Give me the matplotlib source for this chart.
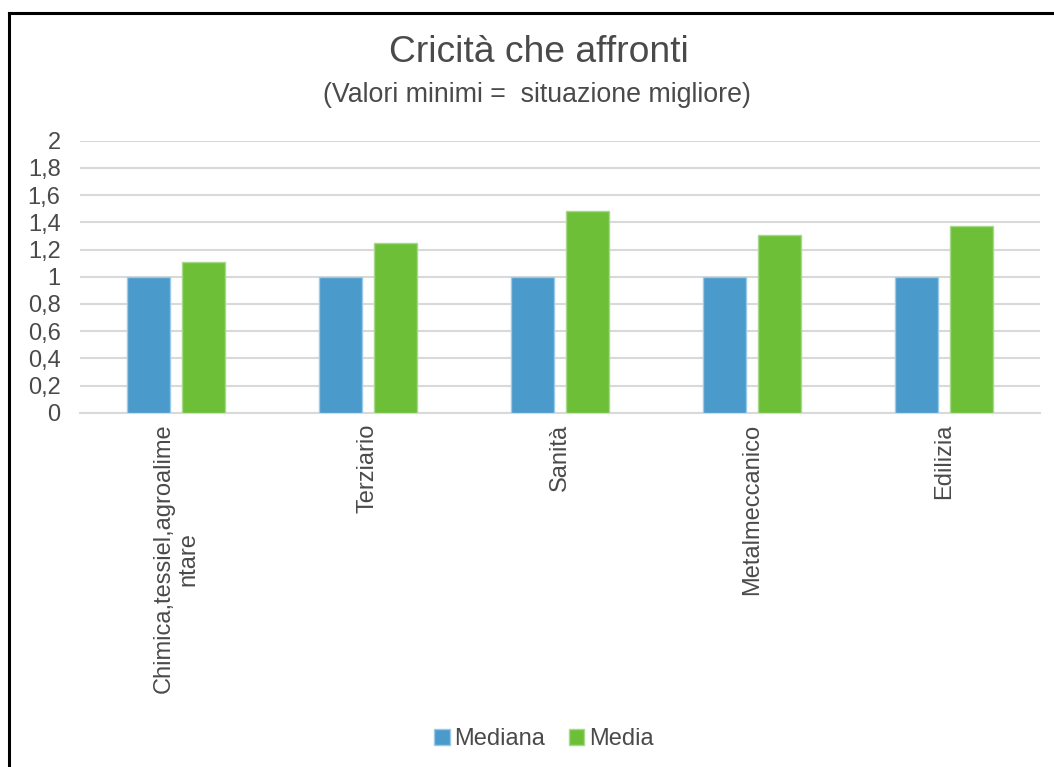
import matplotlib
matplotlib.use("Agg")
import matplotlib.pyplot as plt
from matplotlib.lines import Line2D
import numpy as np

plt.rcParams['font.family'] = ['Liberation Sans', 'DejaVu Sans']

# Data
categories = ["Chimica,tessiel,agroalime\nntare", "Terziario", "Sanità",
              "Metalmeccanico", "Edilizia"]
mediana = [1.0, 1.0, 1.0, 1.0, 1.0]
media = [1.11, 1.25, 1.48, 1.31, 1.37]
series_names = ["Mediana", "Media"]
y_ticks = [0, 0.2, 0.4, 0.6, 0.8, 1.0, 1.2, 1.4, 1.6, 1.8, 2.0]

W, H = 1054, 767
fig = plt.figure(figsize=(W / 100, H / 100), dpi=100)
fig.patch.set_facecolor('white')

ax = fig.add_axes([80 / W, 1 - 412.7 / H, 960 / W, 272 / H])

text_col = '#4a4a4a'
blue, blue_edge = '#4a9acb', '#9ccae6'
green, green_edge = '#6dbf38', '#a8d98a'

x = np.arange(len(categories))
width = 0.224
off = 0.143
ax.bar(x - off, mediana, width, color=blue, edgecolor=blue_edge, linewidth=1,
       label=series_names[0], zorder=3)
ax.bar(x + off, media, width, color=green, edgecolor=green_edge, linewidth=1,
       label=series_names[1], zorder=3)

ax.set_xlim(-0.5, len(categories) - 0.5)
ax.set_ylim(0, 2)
ax.set_yticks(y_ticks)
ax.set_yticklabels([f"{v:g}".replace('.', ',') for v in y_ticks])
ax.yaxis.grid(True, color='#d9d9d9', linewidth=1.5, zorder=0)
ax.set_axisbelow(True)
for s in ['left', 'right', 'top']:
    ax.spines[s].set_visible(False)
ax.spines['bottom'].set_color('#d9d9d9')
ax.spines['bottom'].set_linewidth(1.5)

ax.tick_params(axis='y', length=0, pad=14, labelsize=17, labelcolor=text_col)
ax.tick_params(axis='x', length=0, pad=8, labelsize=17, labelcolor=text_col)
ax.set_xticks(x)
ax.set_xticklabels(categories, rotation=90, ha='center', va='top',
                   multialignment='center')

fig.text(539 / W, 1 - 52 / H, "Cricità che affronti", ha='center',
         va='center', fontsize=26.8, color=text_col)
fig.text(537 / W, 1 - 95 / H, "(Valori minimi =  situazione migliore)",
         ha='center', va='center', fontsize=19.3, color=text_col)

leg = fig.legend(loc='center', bbox_to_anchor=(544 / W, 1 - 739 / H), ncol=2,
                 frameon=False, fontsize=17, handlelength=0.65,
                 handleheight=0.65, handletextpad=0.2, columnspacing=1.0,
                 borderpad=0)
for t in leg.get_texts():
    t.set_color(text_col)

# Black frame along the left and top edges
fig.add_artist(Line2D([9 / W, 9 / W], [0, 1 - 13 / H], color='black',
                      linewidth=2.2, transform=fig.transFigure))
fig.add_artist(Line2D([9 / W, 1], [1 - 13 / H, 1 - 13 / H], color='black',
                      linewidth=2.2, transform=fig.transFigure))

fig.savefig("out.png", dpi=100, facecolor='white')
